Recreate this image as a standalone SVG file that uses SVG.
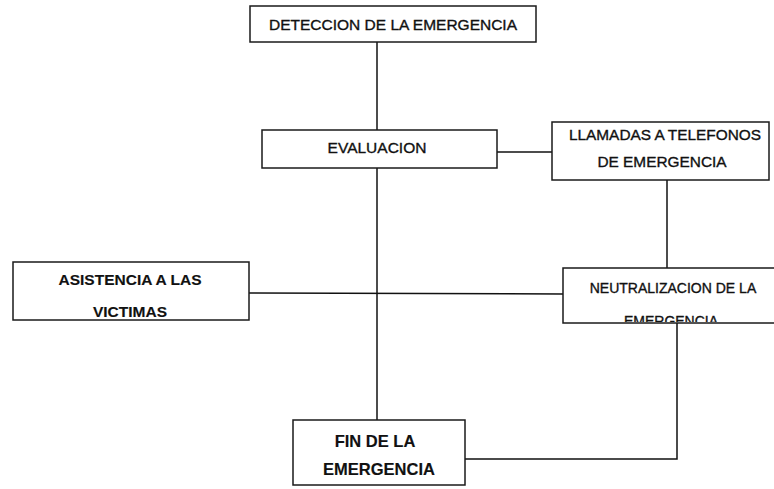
<svg xmlns="http://www.w3.org/2000/svg" width="774" height="489" viewBox="0 0 774 489">
<style>
.box{fill:#fff;stroke:#1a1a1a;stroke-width:1.5}
.t{font-family:"Liberation Sans",Arial,sans-serif;fill:#111;text-anchor:middle;stroke:#111;stroke-width:0.35}
.b{font-weight:bold;stroke-width:0.15}
.ln{stroke:#111;stroke-width:1.5;fill:none}
</style>
<defs>
<clipPath id="cn"><rect x="563" y="268" width="211" height="54"/></clipPath>
</defs>
<rect width="774" height="489" fill="#fff"/>
<g id="connectors">
<line class="ln" x1="377" y1="42" x2="377" y2="130"/>
<line class="ln" x1="497" y1="152" x2="552" y2="152"/>
<line class="ln" x1="377" y1="168" x2="377" y2="420"/>
<line class="ln" x1="667" y1="180" x2="667" y2="268"/>
<line class="ln" x1="249" y1="293" x2="563" y2="294"/>
<polyline class="ln" points="677,323 677,459 465,459"/>
</g>
<g id="deteccion">
<rect class="box" x="250" y="6" width="286" height="36"/>
<text class="t" x="393" y="30" font-size="15.5">DETECCION DE LA EMERGENCIA</text>
</g>
<g id="evaluacion">
<rect class="box" x="262" y="130" width="235" height="38"/>
<text class="t" x="377" y="153" font-size="15.5">EVALUACION</text>
</g>
<g id="llamadas">
<rect class="box" x="552" y="122" width="217" height="58"/>
<text class="t" x="665" y="140" font-size="15.4">LLAMADAS A TELEFONOS</text>
<text class="t" x="662" y="167" font-size="15.4">DE EMERGENCIA</text>
</g>
<g id="asistencia">
<rect class="box" x="13" y="262" width="236" height="58"/>
<text class="t b" x="130" y="285" font-size="15.5">ASISTENCIA A LAS</text>
<text class="t b" x="130" y="317" font-size="15.5">VICTIMAS</text>
</g>
<g id="neutralizacion">
<rect class="box" x="563" y="268" width="212" height="55"/>
<text class="t" x="673" y="293" font-size="14">NEUTRALIZACION DE LA</text>
<text class="t" x="671" y="326" font-size="14" clip-path="url(#cn)">EMERGENCIA</text>
</g>
<g id="fin">
<rect class="box" x="293" y="420" width="172" height="65"/>
<text class="t b" x="375" y="447" font-size="16.5">FIN DE LA</text>
<text class="t b" x="379" y="475" font-size="16.5">EMERGENCIA</text>
</g>
</svg>
